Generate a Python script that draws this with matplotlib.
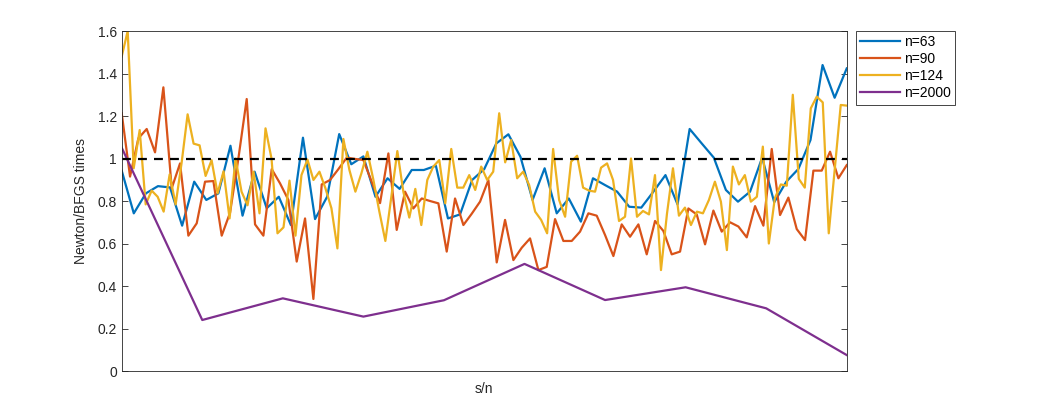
import numpy as np
import matplotlib.pyplot as plt

plt.rcParams['font.family'] = ['Liberation Sans', 'DejaVu Sans']

# Newton/BFGS time ratios
t63 = [0.943, 0.742, 0.836, 0.870, 0.864, 0.684, 0.891, 0.805, 0.836, 1.06,
       0.731, 0.938, 0.766, 0.82, 0.687, 1.098, 0.715, 0.82, 1.115, 0.973,
       1.01, 0.82, 0.907, 0.857, 0.946, 0.946, 0.966, 0.718, 0.737, 0.899,
       0.95, 1.071, 1.114, 1.008, 0.805, 0.954, 0.742, 0.812, 0.703, 0.907,
       0.875, 0.844, 0.773, 0.769, 0.844, 0.922, 0.784, 1.139, 1.071, 1.004,
       0.852, 0.797, 0.844, 1.004, 0.794, 0.891, 0.951, 1.087, 1.44, 1.286, 1.424]

t90 = [1.213, 0.915, 1.095, 1.139, 1.029, 1.335, 0.86, 0.977, 0.637, 0.695,
       0.891, 0.894, 0.637, 0.745, 1.0,
       1.28, 0.69, 0.637, 0.95, 0.883, 0.805, 0.515, 0.718, 0.339, 0.878,
       0.899, 0.95, 1.004, 0.998,
       0.993, 0.89, 0.79, 1.024, 0.664, 0.844, 0.765, 0.812, 0.80, 0.789,
       0.562, 0.812, 0.687, 0.74, 0.797,
       0.899, 0.511, 0.711, 0.522, 0.58, 0.624, 0.475, 0.49, 0.715, 0.612,
       0.612, 0.656, 0.742, 0.731,
       0.64, 0.541, 0.69, 0.632, 0.69, 0.549, 0.706, 0.659, 0.549, 0.562,
       0.765, 0.737, 0.596, 0.755,
       0.656, 0.70, 0.68, 0.629, 0.776, 0.684, 1.045, 0.734, 0.816, 0.668,
       0.616, 0.943, 0.943, 1.032, 0.907, 0.969]

t124 = [1.48, 1.6, 0.954, 1.134, 0.784, 0.849, 0.82, 0.75, 0.925, 0.784,
        0.98, 1.208, 1.07, 1.062, 0.918, 0.992, 0.836, 0.94, 0.718, 1.0,
        0.844, 0.78, 0.938, 0.742, 1.142, 1.0, 0.648, 0.676, 0.896, 0.637,
        0.922, 0.995, 0.899, 0.938, 0.86, 0.766, 0.577, 1.092, 0.946,
        0.844, 0.93, 1.032, 0.9, 0.75, 0.612, 0.82, 1.035, 0.844, 0.722,
        0.857, 0.687, 0.899, 0.962, 0.993, 0.789, 1.045, 0.863, 0.863, 0.922,
        0.852, 0.962, 0.899, 0.938, 1.213, 0.982, 1.087, 0.907, 0.938, 0.875,
        0.75, 0.711, 0.648, 1.045, 0.805, 0.726, 0.985, 1.013, 0.863, 0.849,
        0.844, 0.957, 0.977, 0.899, 0.706, 0.726, 1.0, 0.726, 0.753, 0.737,
        0.922, 0.475, 0.74, 0.954, 0.731, 0.769, 0.687, 0.75, 0.742, 0.805,
        0.891, 0.797, 0.569, 0.962, 0.878, 0.922, 0.797, 0.82, 1.056, 0.60,
        0.813, 0.878, 0.872, 1.30, 0.904, 0.863, 1.236, 1.291, 1.264, 0.648,
        0.95, 1.252, 1.249]

t2000 = [1.051, 0.24, 0.342, 0.256, 0.333, 0.504, 0.334, 0.394, 0.295, 0.075]

series = [(t63, 'n=63', '#0072BD'),
          (t90, 'n=90', '#D95319'),
          (t124, 'n=124', '#EDB120'),
          (t2000, 'n=2000', '#7E2F8E')]

fig = plt.figure(figsize=(10.42, 4.17), dpi=100)
ax = fig.add_axes([0.1168, 0.1103, 0.6958, 0.8153])

for vals, lab, col in series:
    s = np.linspace(0, 1, len(vals))
    ax.plot(s, vals, color=col, lw=1.6, label=lab)

ax.plot([0, 1], [1, 1], '--', color='k', lw=1.6, dashes=(4, 3.2))

ax.set_xlim(0, 1)
ax.set_ylim(0, 1.6)
ax.set_xticks([])
ax.set_yticks(np.arange(0, 1.61, 0.2))
ax.set_yticklabels(['0', '0.2', '0.4', '0.6', '0.8', '1', '1.2', '1.4', '1.6'])
ax.tick_params(axis='y', direction='in', length=4, width=0.6, colors='#262626',
               labelsize=10, right=True)
for sp in ax.spines.values():
    sp.set_color('#262626')
    sp.set_linewidth(0.6)

ax.set_xlabel('s/n', fontsize=10, color='#262626', labelpad=8)
ax.set_ylabel('Newton/BFGS times', fontsize=10, color='#262626', labelpad=7)

handles = ax.get_lines()[:4]
leg = ax.legend(handles=handles, loc='upper left', bbox_to_anchor=(1.0125, 1.0),
                fontsize=10, frameon=True, fancybox=False, framealpha=1,
                edgecolor='#262626', handlelength=2.9, handletextpad=0.25,
                borderpad=0.3, labelspacing=0.22, borderaxespad=0)
leg.get_frame().set_linewidth(0.6)

fig.savefig('out.png', dpi=100)
